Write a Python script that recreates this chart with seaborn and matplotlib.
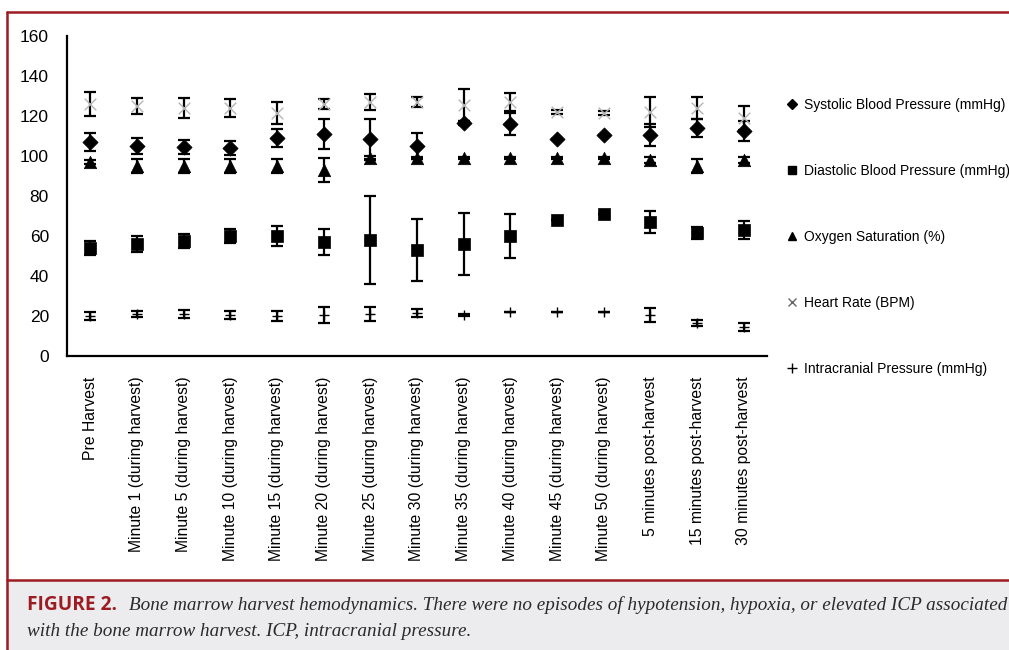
import matplotlib
matplotlib.use("Agg")
import matplotlib.pyplot as plt
from matplotlib.lines import Line2D
from matplotlib.patches import Rectangle
import numpy as np
import pandas as pd
import seaborn as sns

# ---- data -------------------------------------------------------------
categories = [
    "Pre Harvest",
    "Minute 1 (during harvest)",
    "Minute 5 (during harvest)",
    "Minute 10 (during harvest)",
    "Minute 15 (during harvest)",
    "Minute 20 (during harvest)",
    "Minute 25 (during harvest)",
    "Minute 30 (during harvest)",
    "Minute 35 (during harvest)",
    "Minute 40 (during harvest)",
    "Minute 45 (during harvest)",
    "Minute 50 (during harvest)",
    "5 minutes post-harvest",
    "15 minutes post-harvest",
    "30 minutes post-harvest",
]

sbp_mean = [107, 105, 104.5, 104, 109, 111, 108.5, 105, 116.5, 116, 108.5, 110.5, 110.5, 114, 112.5]
sbp_err = [4.5, 4, 3.5, 3.5, 4.5, 7.5, 10, 6.5, 1, 5.5, 0, 0, 5.5, 4.5, 5]

dbp_mean = [54, 56, 57.5, 60, 60, 57, 58, 53, 56, 60, 68, 71, 67, 61.5, 63]
dbp_err = [3.5, 4, 3.5, 3.5, 5, 6.5, 21.8, 15.4, 15.7, 11, 0, 0, 5.7, 3, 4.5]

o2_mean = [97, 95, 95, 95, 95, 93, 99, 99, 99, 99, 99, 99, 98, 95, 98]
o2_err = [1, 3.5, 3.5, 3.5, 3.5, 6, 1, 0.5, 0.5, 0.5, 0.5, 0.5, 1.5, 3.5, 1.5]

hr_mean = [126, 125, 124, 124, 121.5, 126, 127, 127, 125.5, 127, 122, 121.5, 122, 124, 119]
hr_err = [6, 4.2, 4.8, 4.7, 5.5, 2.3, 4, 2.7, 8.2, 4.6, 1, 1, 7.5, 5.6, 5.8]

icp_mean = [20, 21, 21, 20.5, 20, 20.5, 20.8, 21.5, 20.5, 22, 22, 22, 20.5, 16.5, 14.5]
icp_err = [2, 1.5, 2, 2, 2.5, 3.8, 3.5, 2, 0.5, 0, 0, 0, 3.5, 1.7, 2]

series_labels = [
    "Systolic Blood Pressure (mmHg)",
    "Diastolic Blood Pressure (mmHg)",
    "Oxygen Saturation (%)",
    "Heart Rate (BPM)",
    "Intracranial Pressure (mmHg)",
]

caption_head = "FIGURE 2."
caption_line1 = ("Bone marrow harvest hemodynamics. There were no episodes of "
                 "hypotension, hypoxia, or elevated ICP associated")
caption_line2 = "with the bone marrow harvest. ICP, intracranial pressure."

# ---- styling ----------------------------------------------------------
sns.set_theme(style="white")
plt.rcParams["font.family"] = ["Liberation Sans", "DejaVu Sans"]

W, H = 1009, 650
fig = plt.figure(figsize=(W / 100, H / 100), dpi=100)
fig.patch.set_facecolor("white")

def fx(px):
    return px / W

def fy(py):
    return 1 - py / H

ax = fig.add_axes([fx(67), fy(356), fx(700), 320 / H])
ax.set_facecolor("white")

# (mean, err, marker, colour, size, edge width, label)
series = [
    (sbp_mean, sbp_err, "D", "black", 60, 0.5, series_labels[0]),
    (dbp_mean, dbp_err, "s", "black", 85, 0.5, series_labels[1]),
    (o2_mean, o2_err, "^", "black", 80, 0.5, series_labels[2]),
    (hr_mean, hr_err, "x", "#b4b4b4", 70, 1.0, series_labels[3]),
    (icp_mean, icp_err, "+", "black", 45, 1.0, series_labels[4]),
]

x_pos = np.arange(len(categories))
for mean, err, mk, col, s, lw, lab in series:
    df = pd.DataFrame({"time": categories, "value": mean})
    ax.errorbar(x_pos, mean, yerr=err, fmt="none", ecolor="black",
                elinewidth=1.6, capsize=4.5, capthick=1.6, zorder=2)
    sns.scatterplot(data=df, x="time", y="value", marker=mk, color=col,
                    s=s, linewidth=lw, edgecolor=col if mk not in ("x", "+") else None,
                    ax=ax, zorder=3, legend=False)

ax.set_xlim(-0.5, len(categories) - 0.5)
ax.set_ylim(0, 160)
ax.set_yticks(np.arange(0, 161, 20))
ax.set_xticks(x_pos)
ax.set_xticklabels(categories, rotation=90, fontsize=11.3, va="top")
ax.set_xticks(np.arange(-0.5, len(categories), 1.0), minor=True)
ax.set_xlabel("")
ax.set_ylabel("")
ax.tick_params(axis="x", which="major", length=0, pad=15)
ax.tick_params(axis="x", which="minor", length=5, width=1.5, color="black", direction="out")
ax.tick_params(axis="y", length=6, width=1.5, color="black", direction="out", pad=7,
               labelsize=12.5)
ax.tick_params(axis="both", labelcolor="black")
for side in ("top", "right"):
    ax.spines[side].set_visible(False)
for side in ("left", "bottom"):
    ax.spines[side].set_color("black")
    ax.spines[side].set_linewidth(1.6)

# ---- legend -----------------------------------------------------------
handles = [
    Line2D([], [], linestyle="none", marker="D", color="black", markersize=5),
    Line2D([], [], linestyle="none", marker="s", color="black", markersize=6),
    Line2D([], [], linestyle="none", marker="^", color="black", markersize=6),
    Line2D([], [], linestyle="none", marker="x", color="#666666", markersize=6, markeredgewidth=1),
    Line2D([], [], linestyle="none", marker="+", color="black", markersize=7, markeredgewidth=1),
]
leg = ax.legend(handles, series_labels, loc="upper left",
                bbox_to_anchor=(fx(785), fy(98)), bbox_transform=fig.transFigure,
                frameon=False, fontsize=10, labelspacing=3.75, handlelength=1.0,
                handletextpad=0.35, borderpad=0, borderaxespad=0)
for t in leg.get_texts():
    t.set_color("black")

# ---- frame and caption ------------------------------------------------
red = "#9c1c22"
fig.patches.append(Rectangle((fx(8), 0), 1 - fx(8), fy(581), transform=fig.transFigure,
                             facecolor="#ececee", edgecolor="none", zorder=0))
fig.add_artist(Line2D([fx(7), 1], [fy(12), fy(12)], color=red, lw=1.8))
fig.add_artist(Line2D([fx(7), fx(7)], [fy(12), 0], color=red, lw=1.8))
fig.add_artist(Line2D([fx(7), 1], [fy(580), fy(580)], color=red, lw=1.8))

fig.text(fx(27), fy(610), caption_head, fontsize=13.8, fontweight="bold",
         family=["Open Sans", "DejaVu Sans"], color=red, va="baseline")
fig.text(fx(129), fy(610), caption_line1, fontsize=13.75, style="italic",
         family=["Liberation Serif", "DejaVu Serif"], color="#2a2a2a", va="baseline")
fig.text(fx(27), fy(636), caption_line2, fontsize=13.75, style="italic",
         family=["Liberation Serif", "DejaVu Serif"], color="#2a2a2a", va="baseline")

fig.savefig("out.png", dpi=100)
